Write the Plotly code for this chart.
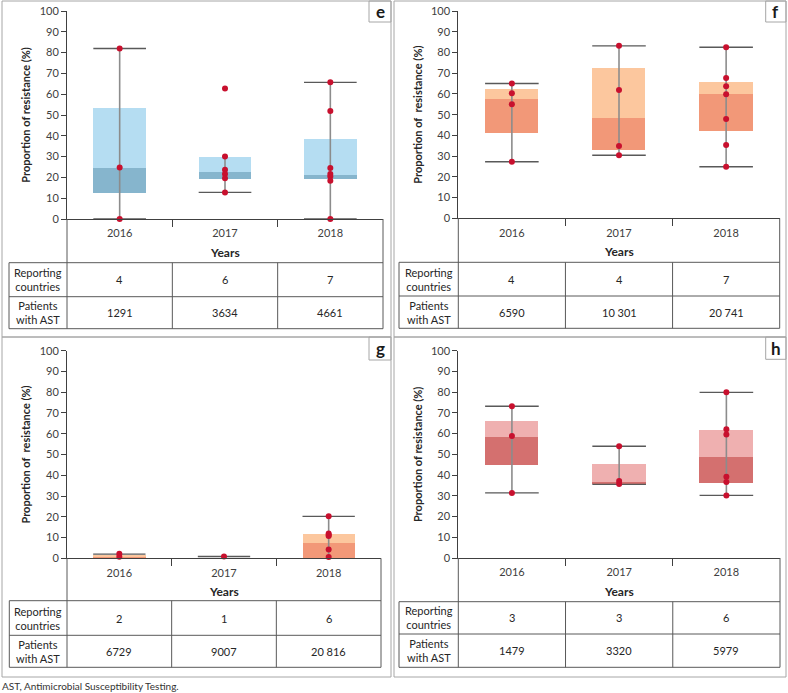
import plotly.graph_objects as go

# ---- data ----
years = ["2016", "2017", "2018"]

# panel e
e_points = [[82.0, 24.8, 0.0],
            [62.8, 30.0, 23.7, 21.6, 19.6, 12.8],
            [65.7, 51.9, 24.5, 21.6, 20.4, 18.4, 0.0]]
e_lo = [0.0, 12.8, 0.0]
e_q1 = [12.3, 19.4, 19.2]
e_med = [24.5, 22.6, 21.0]
e_q3 = [53.2, 29.8, 38.3]
e_hi = [82.0, 29.8, 65.7]
e_countries = ["4", "6", "7"]
e_patients = ["1291", "3634", "4661"]

# panel f
f_points = [[65.0, 60.3, 55.0, 27.3],
            [83.2, 61.9, 34.9, 30.4],
            [82.5, 67.7, 63.7, 59.8, 47.9, 35.4, 24.9]]
f_lo = [27.3, 30.4, 24.9]
f_q1 = [41.2, 33.1, 42.0]
f_med = [57.6, 48.2, 59.8]
f_q3 = [62.5, 72.3, 65.6]
f_hi = [65.0, 83.2, 82.5]
f_countries = ["4", "4", "7"]
f_patients = ["6590", "10 301", "20 741"]

# panel g
g_points = [[2.2, 0.7],
            [0.9],
            [20.3, 12.0, 11.2, 10.8, 4.2, 0.6]]
g_lo = [0.0, 0.9, 0.0]
g_q1 = [0.0, 0.9, 0.0]
g_med = [1.0, 0.9, 7.5]
g_q3 = [1.8, 0.9, 11.7]
g_hi = [2.0, 0.9, 20.2]
g_countries = ["2", "1", "6"]
g_patients = ["6729", "9007", "20 816"]

# panel h
h_points = [[73.2, 58.8, 31.4],
            [53.9, 37.1, 35.7],
            [79.9, 62.1, 59.6, 39.2, 36.7, 30.2]]
h_lo = [31.4, 35.5, 30.2]
h_q1 = [45.2, 35.8, 36.3]
h_med = [58.7, 36.9, 49.0]
h_q3 = [66.1, 45.3, 62.1]
h_hi = [73.2, 53.9, 79.9]
h_countries = ["3", "3", "6"]
h_patients = ["1479", "3320", "5979"]

W, H = 788, 693
FONT = "Lato"
TXT = "#262626"
GRID = "#595959"
FRAME = "#a6a6a6"


def px(x):
    return x / W


def py(y):
    return 1 - y / H


# layout geometry in pixels (not data)
panels = [
    dict(letter="e", ytitle="Proportion of resistance (%)",
         pts=e_points, lo=e_lo, q1=e_q1, med=e_med, q3=e_q3, hi=e_hi,
         countries=e_countries, patients=e_patients,
         lower="#86b5cd", upper="#b5ddf2",
         ax=(67, 383), ay=(219, 11), table=(9, 262.7, 296.7, 328.7),
         frame=(2, 1, 391, 337), lab=(369, 1, 391, 22)),
    dict(letter="f", ytitle="Proportion of\u00a0 resistance (%)",
         pts=f_points, lo=f_lo, q1=f_q1, med=f_med, q3=f_q3, hi=f_hi,
         countries=f_countries, patients=f_patients,
         lower="#f29878", upper="#fcc79e",
         ax=(458.3, 779.7), ay=(218.3, 11), table=(399, 262.3, 296, 328.3),
         frame=(394, 1, 786, 337), lab=(765.7, 1, 786, 22)),
    dict(letter="g", ytitle="Proportion of\u00a0 resistance (%)",
         pts=g_points, lo=g_lo, q1=g_q1, med=g_med, q3=g_q3, hi=g_hi,
         countries=g_countries, patients=g_patients,
         lower="#f29878", upper="#fcc79e",
         ax=(67, 381), ay=(558.3, 350.7), table=(9.3, 600.7, 635.3, 667.3),
         frame=(2, 337, 391, 677), lab=(369, 337, 391, 360)),
    dict(letter="h", ytitle="Proportion of resistance (%)",
         pts=h_points, lo=h_lo, q1=h_q1, med=h_med, q3=h_q3, hi=h_hi,
         countries=h_countries, patients=h_patients,
         lower="#d4706f", upper="#efb0b0",
         ax=(458.3, 780), ay=(558, 350.7), table=(399, 601.7, 634, 667.3),
         frame=(394, 337, 786, 677), lab=(765.7, 337, 786, 359.3)),
]

fig = go.Figure()
shapes = []
annotations = []
layout_axes = {}


def note(text, x, y, size, xref="paper", xanchor="center", color=TXT):
    return dict(text=text, xref=xref, yref="paper", x=x, y=y,
                xanchor=xanchor, yanchor="middle", showarrow=False,
                font=dict(size=size, color=color))


for k, p in enumerate(panels, start=1):
    suffix = "" if k == 1 else str(k)
    xa, ya = "x" + suffix, "y" + suffix
    idx = list(range(len(years)))
    hw = 0.25  # half box width in category units

    # whiskers (vertical), drawn behind the boxes
    wx, wy = [], []
    for i in idx:
        wx += [i, i, None]
        wy += [p["lo"][i], p["hi"][i], None]
    fig.add_trace(go.Scatter(x=wx, y=wy, mode="lines", xaxis=xa, yaxis=ya,
                             line=dict(color="#8c8c8c", width=1.6),
                             hoverinfo="skip", showlegend=False))

    # boxes: lower part q1..median, upper part median..q3
    fig.add_trace(go.Bar(x=idx, base=p["q1"],
                         y=[m - q for m, q in zip(p["med"], p["q1"])],
                         width=0.5, marker=dict(color=p["lower"], line=dict(width=0)),
                         xaxis=xa, yaxis=ya, showlegend=False))
    fig.add_trace(go.Bar(x=idx, base=p["med"],
                         y=[q - m for q, m in zip(p["q3"], p["med"])],
                         width=0.5, marker=dict(color=p["upper"], line=dict(width=0)),
                         xaxis=xa, yaxis=ya, showlegend=False))

    # whisker caps
    cx, cy = [], []
    for i in idx:
        if p["hi"][i] > p["q3"][i] or p["hi"][i] == p["lo"][i]:
            cx += [i - hw, i + hw, None]
            cy += [p["hi"][i], p["hi"][i], None]
        if p["lo"][i] < p["q1"][i]:
            cx += [i - hw, i + hw, None]
            cy += [p["lo"][i], p["lo"][i], None]
    fig.add_trace(go.Scatter(x=cx, y=cy, mode="lines", xaxis=xa, yaxis=ya,
                             line=dict(color="#595959", width=1.4),
                             hoverinfo="skip", showlegend=False))

    # individual country values
    dx, dy = [], []
    for i in idx:
        dx += [i] * len(p["pts"][i])
        dy += p["pts"][i]
    fig.add_trace(go.Scatter(x=dx, y=dy, mode="markers", xaxis=xa, yaxis=ya,
                             marker=dict(color="#c8102e", size=6),
                             cliponaxis=False, showlegend=False))

    x0, x1 = p["ax"]
    yb, yt = p["ay"]
    layout_axes["xaxis" + suffix] = dict(
        domain=[px(x0), px(x1)], anchor=ya, range=[-0.5, 2.5], automargin=False,
        showline=True, linecolor="#404040", linewidth=1,
        tickvals=idx, ticktext=years, ticks="", ticklabelstandoff=4,
        tickfont=dict(size=11, color="#404040"),
        minor=dict(tickvals=[0.5, 1.5], ticks="outside", ticklen=7,
                   tickcolor="#404040", tickwidth=1),
        showgrid=False, zeroline=False, fixedrange=True)
    layout_axes["yaxis" + suffix] = dict(
        domain=[py(yb), py(yt)], anchor=xa, range=[0, 100], dtick=10, automargin=False,
        showline=True, linecolor="#404040", linewidth=1,
        ticks="outside", ticklen=5, tickcolor="#404040",
        tickfont=dict(size=11, color="#404040"),
        title=dict(text="<b>" + p["ytitle"] + "</b>", standoff=6,
                   font=dict(size=11, color=TXT)),
        showgrid=False, zeroline=False, fixedrange=True)

    # outer frame and panel letter box
    fx0, fy0, fx1, fy1 = p["frame"]
    shapes.append(dict(type="rect", xref="paper", yref="paper",
                       x0=px(fx0), x1=px(fx1), y0=py(fy1), y1=py(fy0),
                       line=dict(color=FRAME, width=1)))
    lx0, ly0, lx1, ly1 = p["lab"]
    shapes.append(dict(type="rect", xref="paper", yref="paper",
                       x0=px(lx0), x1=px(lx1), y0=py(ly1), y1=py(ly0),
                       line=dict(color=FRAME, width=1)))
    annotations.append(note("<b>" + p["letter"] + "</b>", px((lx0 + lx1) / 2),
                            py((ly0 + ly1) / 2), 17, color="#1a1a1a"))

    # table under the axis
    tl, tt, tm, tbt = p["table"]
    line = dict(color=GRID, width=1)
    for yy in (tt, tm, tbt):
        shapes.append(dict(type="line", xref="paper", yref="paper",
                           x0=px(tl), x1=px(x1), y0=py(yy), y1=py(yy), line=line))
    shapes.append(dict(type="line", xref="paper", yref="paper",
                       x0=px(tl), x1=px(tl), y0=py(tt), y1=py(tbt), line=line))
    for xx in (x0, x1):
        shapes.append(dict(type="line", xref="paper", yref="paper",
                           x0=px(xx), x1=px(xx), y0=py(yb), y1=py(tbt), line=line))
    for b in (0.5, 1.5):
        shapes.append(dict(type="line", xref=xa, yref="paper",
                           x0=b, x1=b, y0=py(tt), y1=py(tbt), line=line))

    annotations.append(note("<b>Years</b>", 0.5, py(yb + 33), 12, xref=xa + " domain"))
    rows = [("Reporting<br>countries", p["countries"], (tt + tm) / 2),
            ("Patients<br>with AST", p["patients"], (tm + tbt) / 2)]
    for lab, vals, yc in rows:
        annotations.append(note(lab, px((tl + x0) / 2), py(yc), 11))
        for i, v in enumerate(vals):
            annotations.append(note(v, i, py(yc), 11, xref=xa))

annotations.append(note("AST, Antimicrobial Susceptibility Testing.", 0, py(686), 10,
                        xanchor="left", color="#333333"))

fig.update_layout(
    width=W, height=H, autosize=False,
    margin=dict(l=0, r=0, t=0, b=0, pad=0),
    paper_bgcolor="white", plot_bgcolor="white",
    font=dict(family=FONT, color=TXT),
    barmode="overlay", bargap=0, showlegend=False,
    shapes=shapes, annotations=annotations,
    **layout_axes,
)

fig.write_html("out.html", config={"displayModeBar": False, "responsive": False},
               post_script="document.body.style.margin='0';")
